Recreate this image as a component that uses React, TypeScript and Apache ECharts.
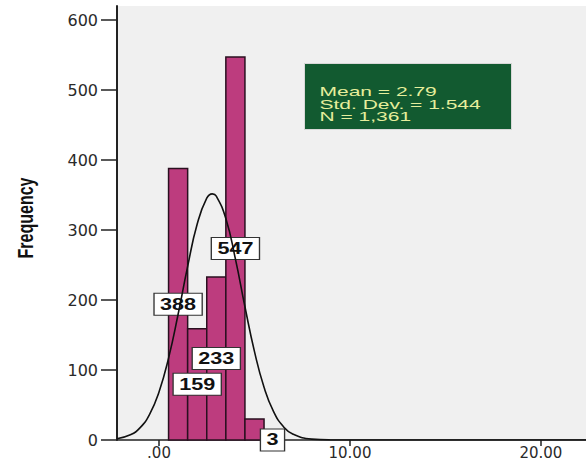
import React, { useEffect, useRef } from "react";
import * as echarts from "echarts";

// Histogram bins (bin centres, bin width 1) and frequencies
const binCenters = [1, 2, 3, 4, 5];
const frequencies = [388, 159, 233, 547, 30];
const barLabels = ["388", "159", "233", "547", "3"];

// Fitted normal curve
const curveX = [-2.2, -1.5, -1, -0.5, 0, 0.5, 1, 1.5, 2, 2.5, 2.79, 3, 3.5, 4, 4.5, 5, 5.5, 6, 6.5, 7, 8, 9, 10, 22.36];
const curveY = [1.9, 7.4, 17.3, 36.3, 68.7, 117, 179.6, 248, 308.5, 345.5, 351.6, 348.4, 316.3, 258.7, 190.4, 126.3, 75.3, 40.5, 19.6, 8.5, 1.2, 0.1, 0, 0];

// Axes
const yTicks = [0, 100, 200, 300, 400, 500, 600];
const xTicks = [0, 10, 20];
const xTickLabels = [".00", "10.00", "20.00"];

// Statistics box
const statLines = ["Mean = 2.79", "Std. Dev. = 1.544", "N = 1,361"];
const yAxisTitle = "Frequency";

export default function App() {
  const ref = useRef<HTMLDivElement>(null);

  useEffect(() => {
    if (!ref.current) return;
    const chart = echarts.init(ref.current, null, { renderer: "svg" });
    const binWidth = 1;
    const lastIdx = frequencies.length - 1;

    const option: any = {
      animation: false,
      backgroundColor: "#ffffff",
      grid: {
        left: 117,
        right: 0,
        top: 6,
        bottom: 24,
        show: true,
        backgroundColor: "#f0f0f0",
        borderWidth: 0,
      },
      xAxis: {
        type: "value",
        min: -2.2,
        max: 22.36,
        splitLine: { show: false },
        axisLine: { show: true, onZero: false, lineStyle: { color: "#222", width: 1.5 } },
        axisTick: { show: true, customValues: xTicks, length: 6, lineStyle: { color: "#222", width: 1.5 } },
        axisLabel: {
          customValues: xTicks,
          formatter: (v: number) => xTickLabels[xTicks.indexOf(v)] ?? "",
          color: "#2a2a2a",
          fontFamily: "'DejaVu Sans', sans-serif",
          fontSize: 15,
          margin: 5,
        },
      },
      yAxis: {
        type: "value",
        min: 0,
        max: 620,
        splitLine: { show: false },
        axisLine: { show: true, onZero: false, lineStyle: { color: "#222", width: 2 } },
        axisTick: { show: true, customValues: yTicks, length: 16, lineStyle: { color: "#222", width: 1.5 } },
        axisLabel: {
          customValues: yTicks,
          color: "#2a2a2a",
          fontFamily: "'DejaVu Sans', sans-serif",
          fontSize: 16,
          margin: 19,
        },
      },
      series: [
        {
          type: "custom",
          z: 2,
          data: binCenters.map((c, i) => [c, frequencies[i]]),
          renderItem: (params: any, api: any) => {
            const x = api.value(0);
            const f = api.value(1);
            const p0 = api.coord([x - binWidth / 2, f]);
            const p1 = api.coord([x + binWidth / 2, 0]);
            return {
              type: "rect",
              shape: { x: p0[0], y: p0[1], width: p1[0] - p0[0], height: p1[1] - p0[1] },
              style: { fill: "#bd3c7e", stroke: "#2a1020", lineWidth: 1.5 },
            };
          },
        },
        {
          type: "custom",
          z: 3,
          data: binCenters.map((c, i) => [c, frequencies[i]]),
          renderItem: (params: any, api: any) => {
            const i = params.dataIndex;
            const x = api.value(0);
            const f = api.value(1);
            let p;
            if (i === lastIdx) {
              const b = api.coord([x, 0]);
              p = [b[0] + 18, b[1]];
            } else {
              p = api.coord([x, f / 2]);
            }
            return {
              type: "text",
              x: p[0],
              y: p[1],
              scaleX: 1.35,
              style: {
                text: barLabels[i],
                font: "bold 16px 'Liberation Sans', Arial, sans-serif",
                fill: "#111",
                align: "center",
                verticalAlign: "middle",
                backgroundColor: "#ffffff",
                borderColor: "#333",
                borderWidth: 1,
                padding: [3, 4, 2, 4],
              },
            };
          },
        },
        {
          type: "line",
          z: 4,
          smooth: true,
          symbol: "none",
          data: curveX.map((x, i) => [x, curveY[i]]),
          lineStyle: { color: "#111", width: 1.6 },
        },
      ],
      graphic: [
        {
          type: "text",
          x: 26,
          y: 218,
          rotation: Math.PI / 2,
          scaleY: 1.35,
          style: {
            text: yAxisTitle,
            font: "bold 16px 'Liberation Sans', Arial, sans-serif",
            fill: "#111",
            align: "center",
            verticalAlign: "middle",
          },
        },
        {
          type: "group",
          left: 304,
          top: 63,
          children: [
            {
              type: "rect",
              shape: { x: 0, y: 0, width: 207, height: 66 },
              style: { fill: "#125a30", stroke: "#d8d8d8", lineWidth: 1 },
            },
            ...statLines.map((t, i) => ({
              type: "text",
              x: 15,
              y: 29 + i * 12.4,
              scaleX: 1.75,
              style: {
                text: t,
                font: "12px 'Liberation Sans', Arial, sans-serif",
                fill: "#e6ee9c",
                align: "left",
                verticalAlign: "middle",
              },
            })),
          ],
        },
      ],
    };
    chart.setOption(option);
    return () => chart.dispose();
  }, []);

  return (
    <div
      ref={ref}
      style={{ position: "absolute", left: 0, top: 0, width: 586, height: 464 }}
    />
  );
}
